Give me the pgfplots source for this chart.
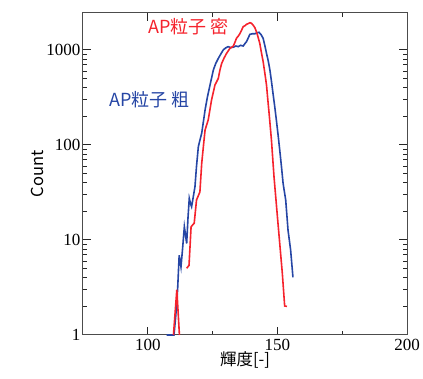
\documentclass[border=0pt]{standalone}
\usepackage{pgfplots}
\pgfplotsset{compat=1.18}
\usepackage{fontspec}
\setmainfont{Liberation Serif}
\newfontfamily\cjk{Noto Sans CJK JP}
\definecolor{cred}{RGB}{245,35,45}
\definecolor{cblue}{RGB}{38,70,165}
\begin{document}
\begin{tikzpicture}
\path[use as bounding box] (-83pt,-44pt) rectangle (340pt,335pt);
\begin{axis}[
  at={(0,0)}, anchor=south west,
  scale only axis, width=324pt, height=322pt,
  xmin=75, xmax=200, ymin=1, ymax=2450,
  ymode=log,
  xtick={100,150,200}, minor xtick={125,175},
  ytick={1,10,100,1000},
  yticklabels={1,10,100,1000},
  log ticks with fixed point,
  /pgf/number format/assume math mode=true,
  ticklabel style={font=\fontsize{17}{17}\selectfont},
  xticklabel style={yshift=-1pt},
  yticklabel style={xshift=1pt},
  tick align=inside,
  major tick length=8pt, minor tick length=4.5pt,
  tick style={black!85, line width=1pt},
  axis line style={black!70, line width=1pt},
  xlabel={\cjk\fontsize{16.5}{16.5}\selectfont 輝度[-]},
  ylabel={\cjk\fontsize{16.5}{16.5}\selectfont Count},
  xlabel style={yshift=6pt},
  ylabel style={yshift=-4pt},
  unbounded coords=jump,
  clip=false,
]
\addplot[cblue, line width=1.6pt] coordinates {
(107.3,1) (110.1,1) (110.8,1.6) (111.5,3) (112.1,6.9) (112.8,5.2) (113.4,8) (114.1,13.8) (114.6,11) (115,9.2)
(115.5,17) (116,27.5) (116.5,24) (116.9,22.4) (117.5,28) (118.2,36.5) (118.8,60) (119.5,96) (120.2,115) (120.8,133)
(121.5,180) (122.1,234) (123,320) (124,427) (125.3,617) (126.2,720) (127.2,815) (128.1,900) (129.1,1000) (130,1050)
(131,1084) (132,1060) (133,1070) (134,1100) (134.9,1084) (135.8,1120) (136.8,1100) (137.5,1170) (138.1,1224) (138.8,1350)
(139.4,1462) (140.3,1480) (141.3,1480) (142.2,1520) (142.9,1535) (143.7,1450) (144.5,1327) (145.2,1100) (145.8,922) (146.5,760)
(147.1,617) (147.7,470) (148.3,350) (149,250) (149.6,183) (150.3,125) (150.9,88.6) (151.6,58) (152.2,39.4) (153.2,26.4)
(154.1,12.7) (155.1,7.85) (156,4.05)
};
\addplot[cred, line width=1.6pt] coordinates {
(109.9,1) (111.2,3) (112.2,1) (113,nan)
(115,5.04) (115.9,5.4) (116.7,13.8) (117.9,15) (118.8,26.4) (120.1,32) (120.8,64) (121.5,100) (122.1,144) (123.3,183)
(124.6,298) (125.9,427) (127.2,502) (127.8,610) (128.5,722) (129.4,820) (130.4,922) (131.7,1040) (133,1100) (133.6,1200)
(134.2,1327) (134.9,1400) (135.5,1480) (136.2,1620) (136.8,1760) (137.5,1800) (138.1,1862) (138.8,1900) (139.4,1937) (140,1910)
(140.6,1830) (141.3,1720) (141.9,1560) (142.5,1380) (143.2,1175) (143.8,950) (144.5,754) (145.2,560) (145.8,427) (146.3,300)
(146.8,215) (147.7,113) (148.7,46) (149.9,19) (150.9,9.2) (151.9,4.46) (152.8,2.02) (153.7,2)
};
\end{axis}
\node[text=cred, font=\cjk\fontsize{18}{18}\selectfont, anchor=west, inner sep=0pt] at (65pt,308pt) {AP粒子 密};
\node[text=cblue, font=\cjk\fontsize{18}{18}\selectfont, anchor=west, inner sep=0pt] at (26pt,235pt) {AP粒子 粗};
\end{tikzpicture}
\end{document}
